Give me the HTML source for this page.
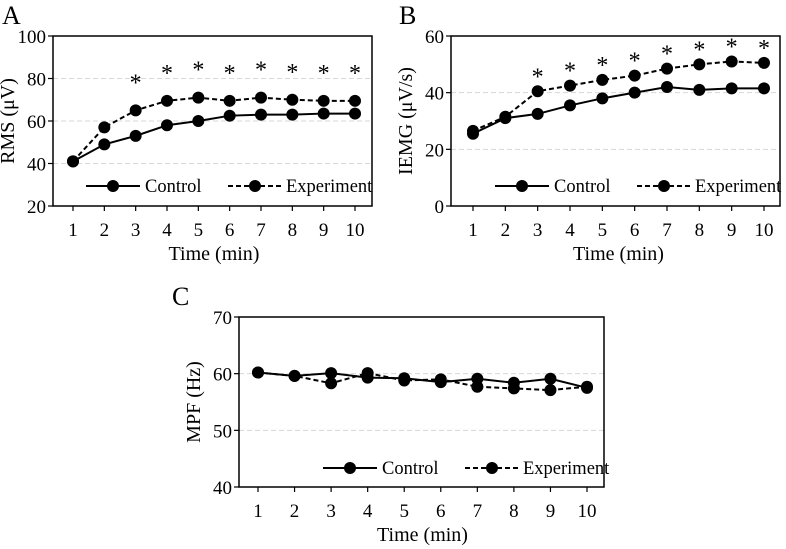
<!DOCTYPE html>
<html><head><meta charset="utf-8"><style>
body{margin:0;background:#fff;}
svg{display:block;font-family:"Liberation Serif",serif;}
</style></head><body>
<svg id="fig" width="786" height="549" viewBox="0 0 786 549"></svg>
<script>
const timeCats=[1,2,3,4,5,6,7,8,9,10];
const rmsControl=[41,49,53,58,60,62.5,63,63,63.5,63.5];
const rmsExperiment=[41,57,65,69.5,71,69.5,71,70,69.5,69.5];
const rmsTicks=[20,40,60,80,100];
const rmsStars=[3,4,5,6,7,8,9,10];
const iemgControl=[25.5,31,32.5,35.5,38,40,42,41,41.5,41.5];
const iemgExperiment=[26.5,31.5,40.5,42.5,44.5,46,48.5,50,51,50.5];
const iemgTicks=[0,20,40,60];
const iemgStars=[3,4,5,6,7,8,9,10];
const mpfControl=[60.2,59.6,60.1,59.3,59.2,58.5,59.1,58.4,59.1,57.5];
const mpfExperiment=[60.2,59.6,58.3,60.1,58.8,59,57.7,57.4,57.1,57.7];
const mpfTicks=[40,50,60,70];

const NS='http://www.w3.org/2000/svg';
const svg=document.getElementById('fig');
function mk(tag,attrs,parent,text){const e=document.createElementNS(NS,tag);for(const k in attrs)e.setAttribute(k,attrs[k]);if(text!==undefined)e.textContent=text;(parent||svg).appendChild(e);return e;}

function panel(cfg){
  const g=mk('g',{});
  
  
  const ymin=cfg.ticks[0],ymax=cfg.ticks[cfg.ticks.length-1];
  const ys=v=>cfg.bottom-(v-ymin)/(ymax-ymin)*(cfg.bottom-cfg.top);
  const xs=i=>cfg.x1+(i-1)*(cfg.x10-cfg.x1)/9;
  cfg.ticks.forEach(t=>{if(t!==ymin&&t!==ymax){const l=mk('line',{x1:cfg.left,x2:cfg.right,y1:ys(t),y2:ys(t),stroke:'#d8d8d8','stroke-dasharray':'5,3','stroke-width':1},g);}});
  const box=mk('rect',{x:cfg.left,y:cfg.top,width:cfg.right-cfg.left,height:cfg.bottom-cfg.top,fill:'none',stroke:'#000','stroke-width':1.5},g);
  
  cfg.ticks.forEach(t=>{
    mk('line',{x1:cfg.left-5,x2:cfg.left,y1:ys(t),y2:ys(t),stroke:'#000','stroke-width':1.2},g);
    const tx=mk('text',{x:cfg.left-7,y:ys(t)+7,'text-anchor':'end','font-size':19},g,t);
    
  });
  timeCats.forEach(c=>{
    mk('line',{x1:xs(c),x2:xs(c),y1:cfg.bottom,y2:cfg.bottom+5,stroke:'#000','stroke-width':1.2},g);
    const tx=mk('text',{x:xs(c),y:cfg.bottom+30,'text-anchor':'middle','font-size':19},g,c);
    
  });
  const xt=mk('text',{x:(cfg.x1+cfg.x10)/2,y:cfg.bottom+54,'text-anchor':'middle','font-size':20},g,'Time (min)');
  
  const yt=mk('text',{x:0,y:0,'text-anchor':'middle','font-size':20,transform:`translate(${cfg.left-39},${(cfg.top+cfg.bottom)/2}) rotate(-90)`},g,cfg.ytitle);
  
  const pl=mk('text',{x:cfg.lx,y:cfg.ly,'font-size':26},g,cfg.label);
  
  [[cfg.exp,'5,3','experiment'],[cfg.ctrl,null,'control']].forEach(([data,dash,nm])=>{
    const pts=timeCats.map((c,i)=>xs(c)+','+ys(data[i])).join(' ');
    const a={points:pts,fill:'none',stroke:'#000','stroke-width':2};if(dash)a['stroke-dasharray']=dash;
    const l=mk('polyline',a,g);
    
    timeCats.forEach((c,i)=>{const m=mk('circle',{cx:xs(c),cy:ys(data[i]),r:6,fill:'#000'},g);
      });
  });
  (cfg.stars||[]).forEach(c=>{
    const i=c-1;const y=ys(Math.max(cfg.exp[i],cfg.ctrl[i]))-cfg.starOff;
    const s=mk('text',{x:xs(c),y:y,'text-anchor':'middle','font-size':24},g,'*');
    
  });
  const lg=mk('g',{},g);
  const L=cfg.leg,ly=cfg.legY;
  mk('line',{x1:L,x2:L+54,y1:ly,y2:ly,stroke:'#000','stroke-width':2},lg);
  mk('circle',{cx:L+27,cy:ly,r:6,fill:'#000'},lg);
  mk('text',{x:L+59,y:ly+6,'font-size':18.5},lg,'Control');
  const E=L+142;
  mk('line',{x1:E,x2:E+54,y1:ly,y2:ly,stroke:'#000','stroke-width':2,'stroke-dasharray':'5,3'},lg);
  mk('circle',{cx:E+27,cy:ly,r:6,fill:'#000'},lg);
  mk('text',{x:E+58,y:ly+6,'font-size':18.5},lg,'Experiment');
}
panel({name:'panel-a-rms',label:'A',lx:2,ly:24,left:53,right:372,top:36,bottom:206,x1:73,x10:355,ticks:rmsTicks,ctrl:rmsControl,exp:rmsExperiment,stars:rmsStars,starOff:20,ytitle:'RMS (\u03bcV)',leg:86,legY:186});
panel({name:'panel-b-iemg',label:'B',lx:399,ly:24,left:451,right:780,top:36,bottom:206,x1:473,x10:764,ticks:iemgTicks,ctrl:iemgControl,exp:iemgExperiment,stars:iemgStars,starOff:7,ytitle:'IEMG (\u03bcV/s)',leg:495,legY:186});
panel({name:'panel-c-mpf',label:'C',lx:172,ly:305,left:239,right:604,top:317,bottom:487,x1:258,x10:587,ticks:mpfTicks,ctrl:mpfControl,exp:mpfExperiment,stars:[],starOff:0,ytitle:'MPF (Hz)',leg:323,legY:468});
</script>
</body></html>
